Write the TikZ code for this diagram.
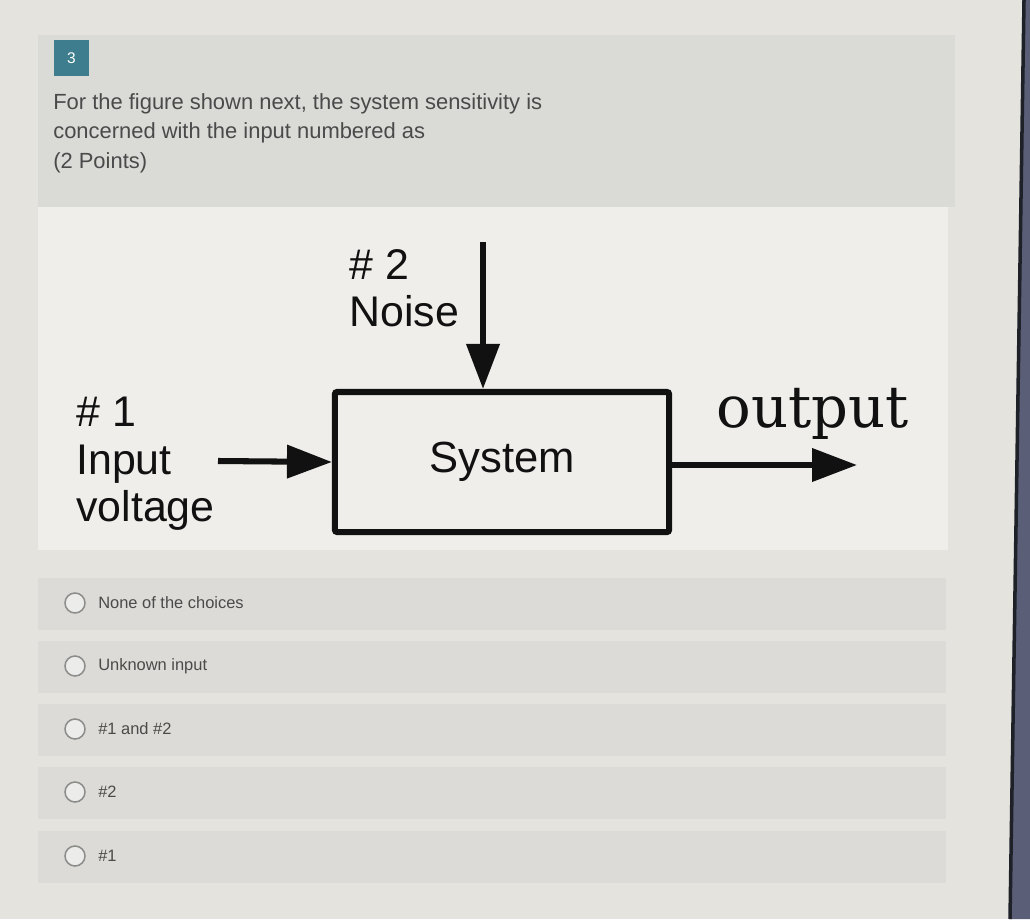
\documentclass[tikz,border=0pt]{standalone}
\usepackage{fontspec}
\setmainfont{Liberation Sans}
\newfontfamily\outfont{DejaVu Serif}
\usetikzlibrary{arrows.meta}
\definecolor{page}{HTML}{E5E3DE}
\definecolor{qpanel}{HTML}{DADAD7}
\definecolor{figpanel}{HTML}{EFEEEB}
\definecolor{strip}{HTML}{DCDBD7}
\definecolor{teal}{HTML}{3E7D8E}
\definecolor{ink}{HTML}{111111}
\definecolor{qtext}{HTML}{4A4A4A}
\definecolor{radiodraw}{HTML}{8C8C8A}
\definecolor{radiofill}{HTML}{ECECEA}
\definecolor{bezel}{HTML}{5A5E76}
\definecolor{bezeledge}{HTML}{1E2128}
\tikzset{
  badge/.style={fill=teal,text=white,minimum width=0.88cm,minimum height=0.88cm,inner sep=0pt,font=\fontsize{11}{13}\selectfont},
  qline/.style={anchor=base west,inner sep=0pt,font=\fontsize{15.6}{18}\selectfont,text=qtext},
  sysbox/.style={draw=ink,line width=4.3pt,rounded corners=1.5pt,minimum width=8.35cm,minimum height=3.5cm,font=\fontsize{31}{36}\selectfont,text=ink},
  biglabel/.style={anchor=west,align=left,inner sep=0pt,font=\fontsize{30.5}{33.8}\selectfont,text=ink},
  sigarrow/.style={-{Triangle[length=32pt,width=23pt]},line width=4.3pt,draw=ink},
  radio/.style={circle,draw=radiodraw,fill=radiofill,line width=1.1pt,minimum size=0.5cm,inner sep=0pt},
  choice/.style={anchor=west,inner sep=0pt,font=\fontsize{11.7}{14}\selectfont,text=qtext}
}
\begin{document}
\begin{tikzpicture}[x=0.025cm,y=-0.025cm]
  \useasboundingbox (0,0) rectangle (1030,919);
  \fill[page] (0,0) rectangle (1030,919);
  \fill[bezel] (1024,0) -- (1030,0) -- (1030,919) -- (1010,919) -- cycle;
  \draw[bezeledge,line width=2.5pt] (1024,0) -- (1010,919);

  % question
  \fill[qpanel] (38,35) rectangle (955,207);
  \node[badge] (qnum) at (71.5,58) {3};
  \node[qline] (q1) at (53,110) {For the figure shown next, the system sensitivity is};
  \node[qline] (q2) at (53,139) {concerned with the input numbered as};
  \node[qline] (q3) at (53,168) {(2 Points)};

  % figure
  \fill[figpanel] (38,207) rectangle (948,550);
  \node[sysbox] (sys) at (502,462) {System};
  \node[biglabel] (inlab) at (76,464) {\# 1\\Input\\voltage};
  \node[biglabel] (nzlab) at (349,288) {\# 2\\Noise};
  \node[anchor=base west,inner sep=0pt,font=\outfont\fontsize{41}{48}\selectfont,text=ink] (outlab) at (716,427) {output};
  \coordinate (inbeg) at (218,461);
  \coordinate (nzbeg) at (483,242);
  \coordinate (outend) at (857,465);
  \draw[sigarrow] (inbeg) -- (sys.west);
  \draw[sigarrow] (nzbeg) -- (nzbeg |- sys.north);
  \draw[sigarrow] (sys.east |- outend) -- (outend);

  % choices
  \foreach \c/\t [count=\i] in {603/None of the choices,666/Unknown input,729/\#1 and \#2,792/\#2,856/\#1} {
    \fill[strip] (38,\c-25) rectangle (946,\c+27);
    \node[radio] (radio\i) at (75,\c) {};
    \node[choice] (choice\i) at (98,\c) {\t};
  }
\end{tikzpicture}
\end{document}
